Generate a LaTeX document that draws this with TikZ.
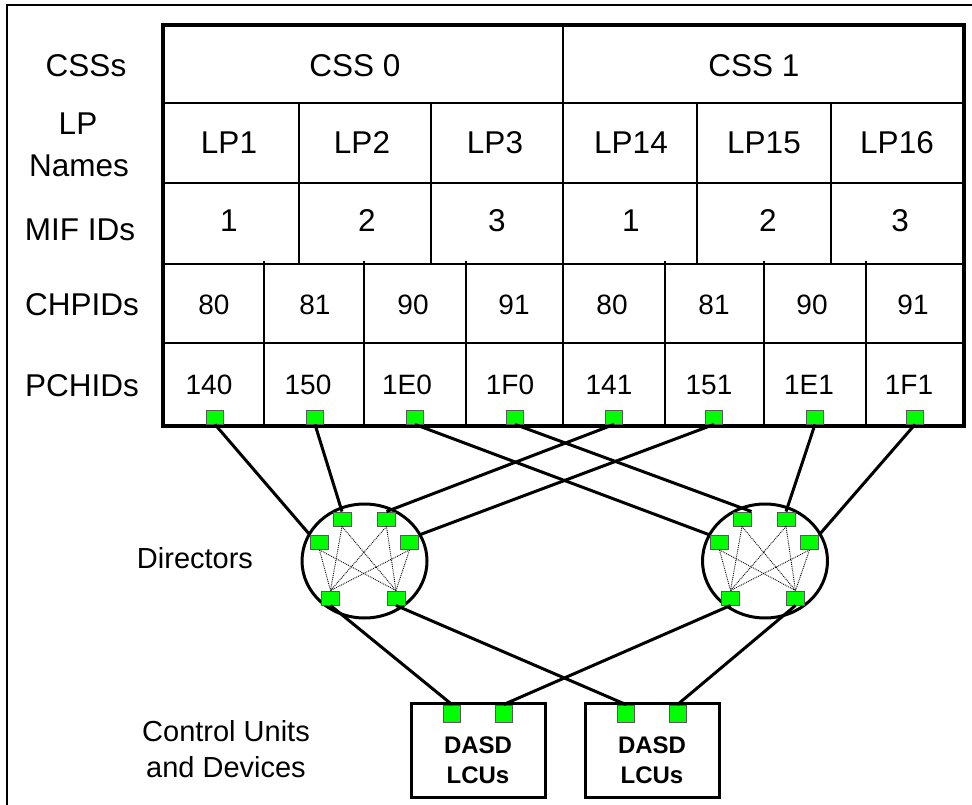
\documentclass[tikz,border=0pt]{standalone}
\usepackage{fontspec}
\setmainfont{Liberation Sans}
\usetikzlibrary{shapes.geometric}
\begin{document}
\begin{tikzpicture}[x=1pt,y=-1pt,
  big/.style={font=\fontsize{31.5}{36}\selectfont, inner sep=0pt},
  num/.style={font=\fontsize{28}{32}\selectfont, inner sep=0pt},
  side/.style={font=\fontsize{29}{36}\selectfont, inner sep=0pt, align=center},
  dasd/.style={font=\fontsize{24}{30}\selectfont\bfseries, inner sep=0pt, align=center},
  port/.style={draw=black!65, fill=green, line width=0.9pt, minimum width=17pt, minimum height=14pt, inner sep=0pt},
  dport/.style={port, minimum width=18pt},
  cport/.style={port, minimum height=17pt},
  director/.style={draw, ellipse, line width=3pt, minimum width=125pt, minimum height=114pt, inner sep=0pt},
  cubox/.style={draw, line width=3pt, minimum width=134pt, minimum height=94pt, inner sep=0pt},
  conn/.style={line width=3pt},
  mesh/.style={densely dotted, line width=0.9pt},
  grid/.style={line width=1.4pt}
]
\useasboundingbox (0,0) rectangle (972,805);
% outer frame (top and left edges visible)
\draw[line width=1.8pt] (972,5) -- (7,5) -- (7,805);

% table inner lines
\draw[grid] (163,103) -- (964,103);
\draw[grid] (163,183) -- (964,183);
\draw[grid] (163,264) -- (964,264);
\draw[grid] (163,343) -- (964,343);
\draw[grid] (563,25) -- (563,426);
\foreach \x in {299,431,697,831} \draw[grid] (\x,103) -- (\x,264);
\foreach \x in {264,364,466,665,764,866} \draw[grid] (\x,261) -- (\x,426);
% table outer
\draw[line width=4.5pt, line join=miter] (163,25) rectangle (964,426);

% row labels
\node[big] (lcss) at (86,66) {CSSs};
\node[big] (llp) at (78,124) {LP};
\node[big] (lnames) at (79,166) {Names};
\node[big] (lmif) at (80,230) {MIF IDs};
\node[big] (lchp) at (82,305) {CHPIDs};
\node[big] (lpch) at (82,386) {PCHIDs};

% CSS row
\node[big] (css0) at (355,66) {CSS 0};
\node[big] (css1) at (754,66) {CSS 1};
% LP row
\node[big] (lp1) at (229,143) {LP1};
\node[big] (lp2) at (362,143) {LP2};
\node[big] (lp3) at (495,143) {LP3};
\node[big] (lp14) at (631,143) {LP14};
\node[big] (lp15) at (764,143) {LP15};
\node[big] (lp16) at (897,143) {LP16};
% MIF row
\node[big] (m1) at (229,221) {1};
\node[big] (m2) at (367,221) {2};
\node[big] (m3) at (497,221) {3};
\node[big] (m4) at (631,221) {1};
\node[big] (m5) at (768,221) {2};
\node[big] (m6) at (900,221) {3};
% CHPID row
\node[num] (c1) at (214,305) {80};
\node[num] (c2) at (315,305) {81};
\node[num] (c3) at (413,305) {90};
\node[num] (c4) at (514,305) {91};
\node[num] (c5) at (612,305) {80};
\node[num] (c6) at (714,305) {81};
\node[num] (c7) at (812,305) {90};
\node[num] (c8) at (913,305) {91};
% PCHID row
\node[num] (h1) at (209,385) {140};
\node[num] (h2) at (308,385) {150};
\node[num] (h3) at (407,385) {1E0};
\node[num] (h4) at (510,385) {1F0};
\node[num] (h5) at (609,385) {141};
\node[num] (h6) at (709,385) {151};
\node[num] (h7) at (809,385) {1E1};
\node[num] (h8) at (909,385) {1F1};

% table ports
\node[port] (p140) at (215,417) {};
\node[port] (p150) at (315,417) {};
\node[port] (p1E0) at (415,417) {};
\node[port] (p1F0) at (515,417) {};
\node[port] (p141) at (614,417) {};
\node[port] (p151) at (714,417) {};
\node[port] (p1E1) at (815,417) {};
\node[port] (p1F1) at (915,417) {};

% directors
\node[director] (LD) at (364.5,561) {};
\node[director] (RD) at (765,561) {};
\node[side] (ldir) at (195,558) {Directors};

\node[dport] (LTL) at (342,519) {};
\node[dport] (LTR) at (386.5,519) {};
\node[dport] (LML) at (319.5,542.5) {};
\node[dport] (LMR) at (409.5,542.5) {};
\node[dport] (LBL) at (330.5,598) {};
\node[dport] (LBR) at (396,598) {};

\node[dport] (RTL) at (742,519) {};
\node[dport] (RTR) at (786,519) {};
\node[dport] (RML) at (719.5,542.5) {};
\node[dport] (RMR) at (809.5,542.5) {};
\node[dport] (RBL) at (730.5,598) {};
\node[dport] (RBR) at (795.5,598) {};

% internal meshes
\foreach \d in {L,R}{
  \foreach \s in {TL,TR,ML,MR}{
    \draw[mesh] (\d\s.south) -- (\d BL.north);
    \draw[mesh] (\d\s.south) -- (\d BR.north);
  }
}

% control units
\node[cubox] (cu1) at (478,750) {};
\node[cubox] (cu2) at (652,750) {};
\node[dasd] (t1) at (478,760) {DASD\\LCUs};
\node[dasd] (t2) at (652,760) {DASD\\LCUs};
\node[cport] (Aa) at (452,713.5) {};
\node[cport] (Ab) at (503.5,713.5) {};
\node[cport] (Ba) at (626,713.5) {};
\node[cport] (Bb) at (677.5,713.5) {};
\node[side] (lcu) at (226,749) {Control Units\\and Devices};

% connections table -> directors
\draw[conn] (p140.south) -- (LML.north west);
\draw[conn] (p150.south) -- (LTL.north);
\draw[conn] (p141.south) -- (LTR.north);
\draw[conn] (p151.south) -- (LMR.north east);
\draw[conn] (p1E0.south) -- (RML.north west);
\draw[conn] (p1F0.south) -- (RTL.north east);
\draw[conn] (p1E1.south) -- (RTR.north);
\draw[conn] (p1F1.south) -- (RMR.north east);

% connections directors -> control units
\draw[conn] (LBL.south) -- (Aa.north);
\draw[conn] (LBR.south) -- (Ba.north);
\draw[conn] (RBL.south) -- (Ab.north);
\draw[conn] (RBR.south) -- (Bb.north);
\end{tikzpicture}
\end{document}
